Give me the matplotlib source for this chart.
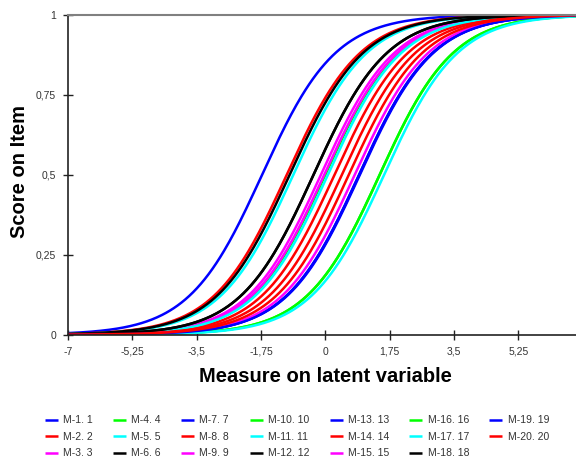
import numpy as np
import matplotlib
matplotlib.use("Agg")
import matplotlib.pyplot as plt

plt.rcParams['font.family'] = ['Liberation Sans', 'DejaVu Sans']

# ======================
# Item data (Rasch item locations at score 0.5)
# ======================
items = ["M-1. 1", "M-2. 2", "M-3. 3", "M-4. 4", "M-5. 5", "M-6. 6", "M-7. 7",
         "M-8. 8", "M-9. 9", "M-10. 10", "M-11. 11", "M-12. 12", "M-13. 13",
         "M-14. 14", "M-15. 15", "M-16. 16", "M-17. 17", "M-18. 18",
         "M-19. 19", "M-20. 20"]
difficulty = [-1.72, -1.05, -0.12, 0.00, -0.87, -0.97, 0.92,
              0.25, -0.03, 1.48, 0.07, -0.32, 0.92,
              0.45, 0.80, 1.48, 1.60, -0.32,
              0.94, 0.64]
colors = ["#0000FF", "#FF0000", "#FF00FF", "#00FF00", "#00FFFF", "#000000"]

xticks = [-7, -5.25, -3.5, -1.75, 0, 1.75, 3.5, 5.25]
xtick_labels = ["-7", "-5,25", "-3,5", "-1,75", "0", "1,75", "3,5", "5,25"]
yticks = [0, 0.25, 0.5, 0.75, 1]
ytick_labels = ["0", "0,25", "0,5", "0,75", "1"]

# ======================
# Figure
# ======================
fig = plt.figure(figsize=(5.76, 4.62), dpi=100)
ax = fig.add_axes([68 / 576, 1 - 334.7 / 462, 1 - 68 / 576, (334.7 - 14.7) / 462])

theta = np.linspace(-7, 7, 400)
for i, (name, b) in enumerate(zip(items, difficulty)):
    p = 1.0 / (1.0 + np.exp(-(theta - b)))
    ax.plot(theta, p, color=colors[i % len(colors)], lw=1.8, label=name,
            solid_capstyle='butt')

ax.set_xlim(-7, 6.82)
ax.set_ylim(0, 1)
ax.set_xticks(xticks)
ax.set_xticklabels(xtick_labels)
ax.set_yticks(yticks)
ax.set_yticklabels(ytick_labels)
ax.tick_params(direction='inout', length=7, width=1, labelsize=7.5,
               labelcolor='#333333', color='#222222', pad=5)

ax.spines['right'].set_visible(False)
ax.spines['top'].set_color('#808080')
ax.spines['top'].set_linewidth(1.5)
for s in ('left', 'bottom'):
    ax.spines[s].set_color('#222222')
    ax.spines[s].set_linewidth(1.2)

fig.text(325 / 576, 1 - 376 / 462, "Measure on latent variable",
         ha='center', va='center', fontsize=14.5, fontweight='bold')
fig.text(20 / 576, 1 - 172 / 462, "Score on Item", rotation=90,
         ha='center', va='center', fontsize=14.5, fontweight='bold')

fig.legend(loc='upper center', bbox_to_anchor=(297 / 576, 1 - 406 / 462),
           ncol=7, frameon=False, fontsize=7.5, handlelength=1.25,
           handletextpad=0.5, columnspacing=1.95, labelspacing=0.62,
           labelcolor='#333333')

fig.savefig("out.png", dpi=100)
